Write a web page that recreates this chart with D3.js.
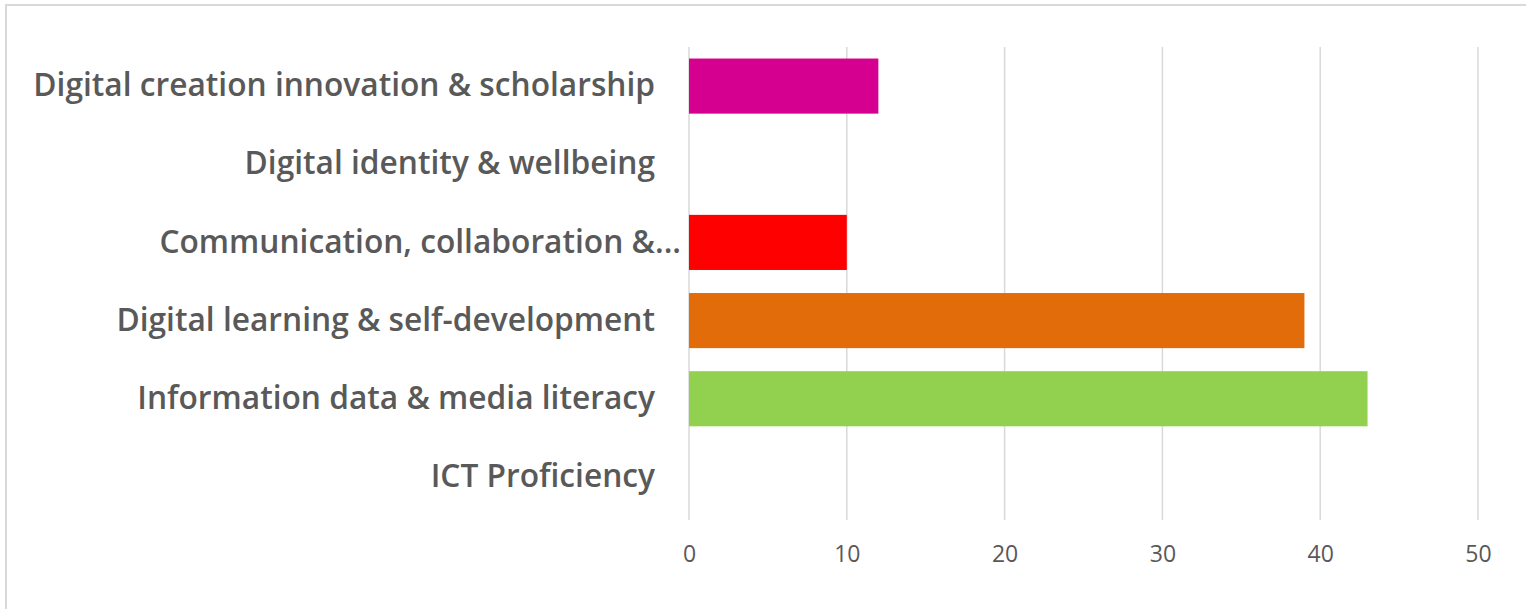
<!DOCTYPE html>
<html>
<head>
<meta charset="utf-8">
<script src="https://cdn.jsdelivr.net/npm/d3@7"></script>
<style>
  body { margin: 0; background: #fff; }
  svg { display: block; }
</style>
</head>
<body>
<div id="chart"></div>
<script>
// Data (top to bottom)
const categories = [
  'Digital creation innovation & scholarship',
  'Digital identity & wellbeing',
  'Communication, collaboration &...',
  'Digital learning & self-development',
  'Information data & media literacy',
  'ICT Proficiency'
]
const values = [12, 0, 10, 39, 43, 0]
const barColors = ['#d5008f', '#4472c4', '#ff0000', '#e36c0a', '#92d050', '#4472c4']
const xTicks = [0, 10, 20, 30, 40, 50]

const W = 1526, H = 609
const m = { left: 689, right: 48, top: 47, bottom: 93 }

const svg = d3.select('#chart')
  .append('svg')
  .attr('width', W)
  .attr('height', H)

// chart frame (cut off on the right and bottom like the source)
svg.append('rect')
  .attr('x', 6)
  .attr('y', 5)
  .attr('width', W + 20)
  .attr('height', H + 20)
  .attr('fill', 'none')
  .attr('stroke', '#d9d9d9')
  .attr('stroke-width', 2)

// Scales
const xScale = d3.scaleLinear().domain([0, 50]).range([m.left, W - m.right])
const yScale = d3.scaleBand()
  .domain(categories)
  .range([m.top, H - m.bottom])
  .paddingInner(0.295)
  .paddingOuter(0.1475)

// Gridlines
svg.append('g')
  .selectAll('line')
  .data(xTicks).enter()
  .append('line')
  .attr('x1', d => xScale(d))
  .attr('x2', d => xScale(d))
  .attr('y1', m.top)
  .attr('y2', H - m.bottom + 4)
  .attr('stroke', '#d9d9d9')
  .attr('stroke-width', 1.5)

// Bars
svg.append('g')
  .selectAll('rect')
  .data(values).enter()
  .append('rect')
  .attr('x', xScale(0))
  .attr('y', (d, i) => yScale(categories[i]))
  .attr('width', d => xScale(d) - xScale(0))
  .attr('height', yScale.bandwidth())
  .attr('fill', (d, i) => barColors[i])

// X axis labels
const xAxis = d3.axisBottom(xScale).tickValues(xTicks).tickSize(0).tickPadding(0)
const xAxisCall = svg.append('g')
  .attr('transform', 'translate(0, 546)')
  .call(xAxis)
xAxisCall.select('.domain').remove()
xAxisCall.selectAll('text')
  .attr('fill', '#595959')
  .style('font-family', '"Open Sans", sans-serif')
  .style('font-size', '23px')

// Y axis labels
const yAxis = d3.axisLeft(yScale).tickSize(0).tickPadding(0)
const yAxisCall = svg.append('g')
  .attr('transform', 'translate(655, 0)')
  .call(yAxis)
yAxisCall.select('.domain').remove()
const yLabels = yAxisCall.selectAll('text')
  .attr('fill', '#595959')
  .attr('dx', d => d.endsWith('...') ? 26 : 0)
  .style('font-family', '"Open Sans", sans-serif')
  .style('font-weight', 600)
  .style('font-size', '28px')

// fit label size to the reference width of the longest label
const longest = d3.max(yLabels.nodes(), n => n.getComputedTextLength())
yLabels.style('font-size', (28 * 622 / longest) + 'px')
</script>
</body>
</html>
